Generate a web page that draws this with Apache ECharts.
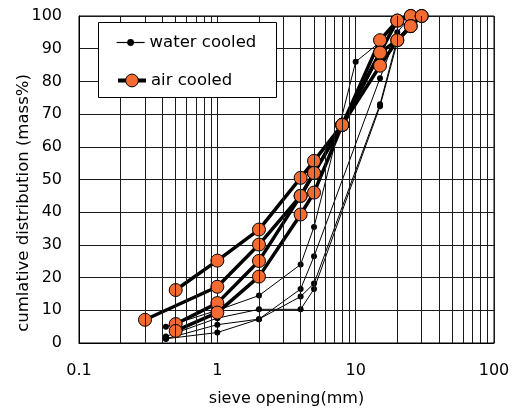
<!DOCTYPE html>
<html><head><meta charset="utf-8">
<script src="https://cdn.jsdelivr.net/npm/echarts@6/dist/echarts.min.js"></script>
<style>html,body{margin:0;padding:0;background:#fff}#c{width:517px;height:412px}</style>
</head><body><div id="c"></div>
<script>
// x-axis minor grid values (sieve scale, log)
const minorGrid = [0.2,0.3,0.4,0.5,0.6,0.7,0.8,0.9,2,3,4,5,6,7,8,9,20,30,40,50,60,70,80,90];
const yTicks = [0,10,20,30,40,50,60,70,80,90,100];

// water cooled: [sieve opening (mm), cumulative %]
const water1 = [[0.425,5.0],[1,10.0],[2,14.5],[4,24.0],[5,35.5],[10,86.0],[15,92.0],[20,98.0],[25,100]];
const water2 = [[0.425,2.0],[1,7.6],[2,10.3],[4,10.3],[5,16.5],[15,72.4],[20,92.0],[25,96.0]];
const water3 = [[0.425,1.3],[1,5.6],[2,7.3],[4,16.5],[5,26.5],[15,81.0],[20,95.0],[25,100]];
const water4 = [[0.425,1.3],[1,3.2],[2,7.3],[4,14.2],[5,18.2],[15,73.0],[20,93.0],[25,96.0]];

// air cooled
const air1 = [[0.5,16.2],[1,25.2],[2,34.7],[4,50.5],[5,55.7],[8,66.7],[15,92.6],[20,98.6],[25,100]];
const air2 = [[0.3,7.1],[1,17.2],[2,30.1],[4,45.0],[5,52.0],[8,66.7],[15,88.8],[20,98.6],[25,100]];
const air3 = [[0.5,5.8],[1,12.2],[2,25.1],[4,45.0],[5,52.0],[8,66.7],[15,88.8],[20,92.6],[25,96.9],[30,100]];
const air4 = [[0.5,3.7],[1,9.3],[2,20.3],[4,39.3],[5,46.0],[8,66.7],[15,84.8],[20,92.6],[25,96.9],[30,100]];

const waterSets = [water1, water2, water3, water4];
const airSets = [air1, air2, air3, air4];

const FONT = 'DejaVu Sans';
const ORANGE = '#F36B30';
const chart = echarts.init(document.getElementById('c'), null, {renderer:'canvas'});

const series = [];
series.push({
  type:'line', name:'grid', data:[], z:1, silent:true,
  markLine:{
    silent:true, symbol:['none','none'], label:{show:false}, animation:false,
    lineStyle:{color:'#1a1a1a', width:1, type:'solid'},
    emphasis:{disabled:true},
    data: minorGrid.map(v => ({xAxis:v}))
  }
});
waterSets.forEach(d => series.push({
  type:'line', name:'water cooled', data:d, symbol:'circle', symbolSize:6,
  lineStyle:{color:'#000', width:1}, itemStyle:{color:'#000'},
  z:3, clip:false, animation:false
}));
airSets.forEach(d => series.push({
  type:'line', name:'air cooled', data:d, symbol:'circle', symbolSize:13,
  lineStyle:{color:'#000', width:3.5},
  itemStyle:{color:ORANGE, borderColor:'#000', borderWidth:1},
  z:4, clip:false, animation:false
}));

const legendText = {fontFamily:FONT, fontSize:16.5, color:'#000'};

chart.setOption({
  animation:false,
  backgroundColor:'#fff',
  textStyle:{fontFamily:FONT},
  grid:{left:79, right:23, top:16, bottom:67, show:true, borderColor:'#000', borderWidth:1, backgroundColor:'transparent'},
  legend:[{
    data:[{name:'water cooled', lineStyle:{color:'#000', width:1.2}, itemStyle:{color:'#000', borderWidth:0}}],
    orient:'vertical', left:116, top:34, padding:0, z:20,
    itemWidth:28, itemHeight:8.5,
    textStyle:legendText, selectedMode:false
  },{
    data:[{name:'air cooled', lineStyle:{color:'#000', width:4}, itemStyle:{color:ORANGE, borderColor:'#000', borderWidth:1}}],
    orient:'vertical', left:116, top:72, padding:0, z:20,
    itemWidth:28, itemHeight:16,
    textStyle:legendText, selectedMode:false
  }],
  xAxis:{
    type:'log', logBase:10, min:0.1, max:100,
    name:'sieve opening(mm)', nameLocation:'middle', nameGap:48,
    nameTextStyle:{fontFamily:FONT, fontSize:16, color:'#000'},
    axisLine:{show:true, lineStyle:{color:'#000', width:1}},
    axisTick:{show:false},
    splitLine:{show:true, lineStyle:{color:'#1a1a1a', width:1}},
    axisLabel:{fontFamily:FONT, fontSize:16, color:'#000', margin:20,
      formatter: v => String(+(+v).toPrecision(3))}
  },
  yAxis:{
    type:'value', min:yTicks[0], max:yTicks[yTicks.length-1], interval:10,
    axisLine:{show:true, lineStyle:{color:'#000', width:1}},
    axisTick:{show:false},
    splitLine:{show:true, lineStyle:{color:'#1a1a1a', width:1}},
    axisLabel:{fontFamily:FONT, fontSize:16, color:'#000', margin:17}
  },
  graphic:[{
    type:'rect', z:15, silent:true,
    shape:{x:98.5, y:22.5, width:178, height:75},
    style:{fill:'#fff', stroke:'#000', lineWidth:1}
  },{
    type:'text', x:24, y:203, rotation:Math.PI/2,
    style:{text:'cumlative distribution (mass%)', fontFamily:FONT, fontSize:16.5, fill:'#000',
      textAlign:'center', textVerticalAlign:'middle'}
  }],
  series: series
});
</script>
</body></html>
